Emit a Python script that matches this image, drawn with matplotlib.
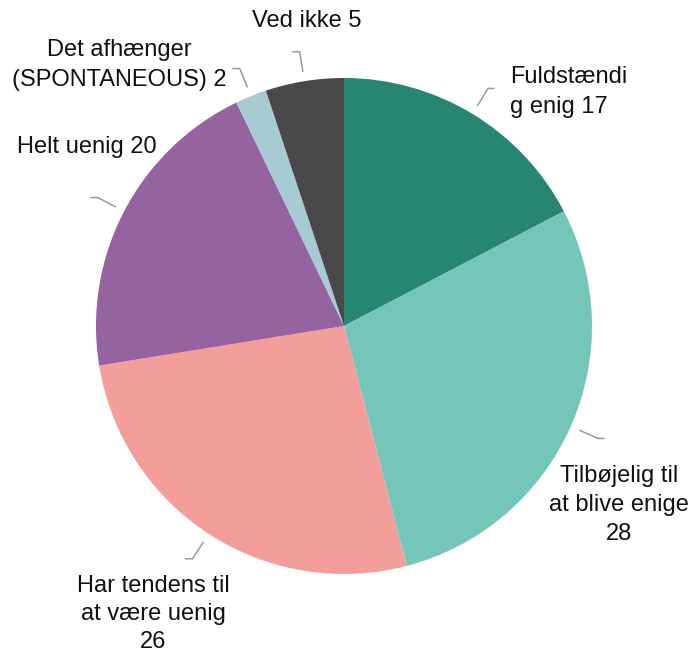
import numpy as np
import matplotlib
matplotlib.use("Agg")
import matplotlib.pyplot as plt

categories = ["Fuldstændig enig", "Tilbøjelig til at blive enige", "Har tendens til at være uenig",
              "Helt uenig", "Det afhænger (SPONTANEOUS)", "Ved ikke"]
values = [17, 28, 26, 20, 2, 5]
label_texts = ["Fuldstændi\ng enig 17", "Tilbøjelig til\nat blive enige\n28", "Har tendens til\nat være uenig\n26",
               "Helt uenig 20", "Det afhænger\n(SPONTANEOUS) 2", "Ved ikke 5"]
colors = ["#278672", "#74c6b8", "#f49e9b", "#9463a0", "#a6cbd3", "#48484b"]

W, H = 691, 653
# layout (pixel coords, y from top)
cx, cy, R = 344, 326, 248
label_pos = [(510, 92, "left", "left", 1.42), (619, 505, "center", "center", 1.42),
             (153, 614, "center", "center", 1.36),
             (17, 147, "left", "left", 1.42), (119, 65, "center", "center", 1.42),
             (307, 21, "center", "center", 1.42)]

fig = plt.figure(figsize=(W / 100, H / 100), dpi=100)
ax = fig.add_axes([0, 0, 1, 1])
wedges, _ = ax.pie(values, colors=colors, startangle=90, counterclock=False,
                   center=(cx, H - cy), radius=R, wedgeprops=dict(linewidth=0))
ax.set_xlim(0, W)
ax.set_ylim(0, H)
ax.set_aspect("equal")
ax.axis("off")

for w, txt, (lx, ly, ha, ma, ls) in zip(wedges, label_texts, label_pos):
    ang = np.deg2rad((w.theta1 + w.theta2) / 2)
    c, s = np.cos(ang), np.sin(ang)
    x0, y0 = cx + 1.04 * R * c, H - cy + 1.04 * R * s
    x1, y1 = cx + 1.12 * R * c, H - cy + 1.12 * R * s
    x2 = x1 + (6 if c >= 0 else -7)
    ax.plot([x0, x1, x2], [y0, y1, y1], color="#9a9a9a", lw=1.1, solid_capstyle="round")
    ax.text(lx, H - ly, txt, ha=ha, va="center", multialignment=ma, fontsize=17,
            family=["Liberation Sans", "DejaVu Sans"], color="#111111", linespacing=ls)

fig.savefig("out.png", dpi=100, facecolor="white")
